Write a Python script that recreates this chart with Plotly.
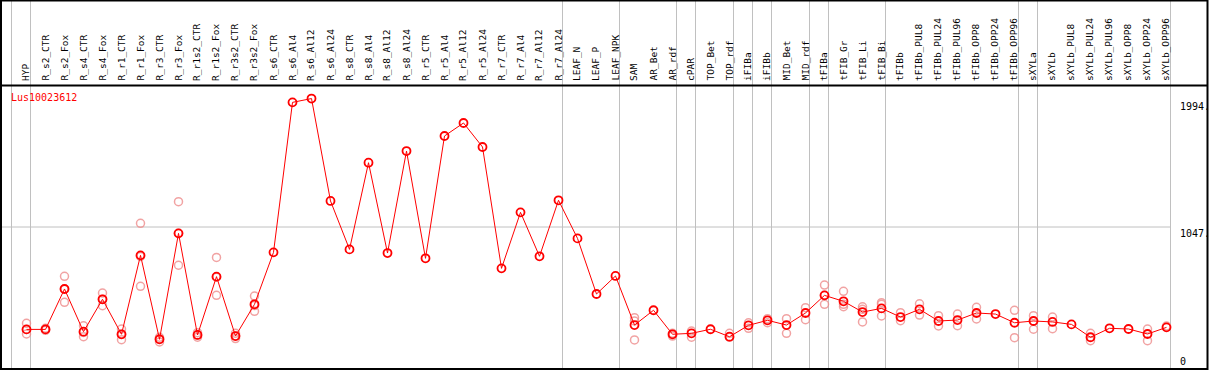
import plotly.graph_objects as go

categories = ["HYP", "R_s2_CTR", "R_s2_Fox", "R_s4_CTR", "R_s4_Fox", "R_r1_CTR", "R_r1_Fox",
              "R_r3_CTR", "R_r3_Fox", "R_r1s2_CTR", "R_r1s2_Fox", "R_r3s2_CTR", "R_r3s2_Fox",
              "R_s6_CTR", "R_s6_Al4", "R_s6_Al12", "R_s6_Al24", "R_s8_CTR", "R_s8_Al4",
              "R_s8_Al12", "R_s8_Al24", "R_r5_CTR", "R_r5_Al4", "R_r5_Al12", "R_r5_Al24",
              "R_r7_CTR", "R_r7_Al4", "R_r7_Al12", "R_r7_Al24", "LEAF_N", "LEAF_P", "LEAF_NPK",
              "SAM", "AR_Bet", "AR_rdf", "cPAR", "TOP_Bet", "TOP_rdf", "iFIBa", "iFIBb",
              "MID_Bet", "MID_rdf", "tFIBa", "tFIB_Gr", "tFIB_Li", "tFIB_Bi", "tFIBb",
              "tFIBb_PUL8", "tFIBb_PUL24", "tFIBb_PUL96", "tFIBb_OPP8", "tFIBb_OPP24",
              "tFIBb_OPP96", "sXYLa", "sXYLb", "sXYLb_PUL8", "sXYLb_PUL24", "sXYLb_PUL96",
              "sXYLb_OPP8", "sXYLb_OPP24", "sXYLb_OPP96"]

mean_values = [292, 292, 590, 275, 514, 256, 838, 219, 1000, 251, 681, 243, 477,
               860, 1966, 1994, 1239, 882, 1521, 855, 1607, 816, 1718, 1814, 1637,
               742, 1155, 831, 1244, 963, 553, 686,
               324, 433, 256, 263, 293, 238, 322, 359, 324, 413, 543, 499, 420, 447, 383,
               440, 354, 361, 413, 405, 341, 354, 347, 329, 234, 300, 295, 258, 307]

rep_a = [337, 300, 683, 319, 560, 295, 1074, 234, 1234, 268, 823, 263, 538,
         None, None, None, None, None, None, None, None, None, None, None, None,
         None, None, None, None, None, None, None,
         378, None, 263, 280, None, 263, 341, 371, 371, 452, 619, 573, 459, 489, 415,
         481, 393, 405, 455, None, 433, 393, 383, None, 263, None, None, 295, 317]
rep_b = [292, 292, 590, 270, 514, 256, 830, 222, 1000, 251, 677, 243, 468,
         None, None, None, None, None, None, None, None, None, None, None, None,
         None, None, None, None, None, None, None,
         354, None, None, None, None, None, None, None, None, None, 543, 477, 440, 477, None,
         None, None, None, None, None, None, None, None, None, None, None, None, None, None]
rep_c = [258, 285, 492, 238, 467, 216, 610, 199, 765, 234, 543, 224, 425,
         None, None, None, None, None, None, None, None, None, None, None, None,
         None, None, None, None, None, None, None,
         214, None, 243, 234, None, 234, 300, 341, 263, 364, 477, 459, 347, 391, 356,
         398, 317, 319, 369, None, 231, 293, 297, None, 209, None, None, 209, None]

separator_after = [-1, 0, 28, 31, 34, 35, 37, 38, 39, 41, 42, 45, 52, 53, 60]

gene_label = "Lus10023612"
y_max_label = "1994."
y_mid_label = "1047."
y_min_label = "0"
y_mid_value = 1047
y_top = 2094

W, H = 1209, 370
step = 19.0
x0_px = 26.5
r0 = -x0_px / step
r1 = r0 + W / step

def py(p):
    return 1 - p / H

def px(p):
    return p / W

n = len(categories)
xs = list(range(n))
red = "#ff0000"
pink = "rgba(238,140,140,0.8)"
mono = "DejaVu Sans Mono"

fig = go.Figure()
for reps in (rep_a, rep_b, rep_c):
    fig.add_trace(go.Scatter(x=xs, y=reps, mode="markers",
                             marker=dict(symbol="circle-open", size=8, color=pink,
                                         line=dict(width=1.5, color=pink)),
                             showlegend=False, hoverinfo="skip"))
fig.add_trace(go.Scatter(x=xs, y=mean_values, mode="lines+markers",
                         line=dict(color=red, width=1),
                         marker=dict(symbol="circle-open", size=8, color=red,
                                     line=dict(width=1.8, color=red)),
                         showlegend=False))

shapes = []
grey = "#c0c0c0"
for s in separator_after:
    xv = s + 4.0 / step
    shapes.append(dict(type="line", xref="x", yref="paper", x0=xv, x1=xv, y0=0, y1=1,
                       line=dict(color=grey, width=1), layer="below"))
# mid horizontal gridline
shapes.append(dict(type="line", xref="paper", yref="y", x0=px(1), x1=px(x0_px + 60 * step + 4),
                   y0=y_mid_value, y1=y_mid_value, line=dict(color=grey, width=1), layer="below"))
# header separator
shapes.append(dict(type="line", xref="paper", yref="paper", x0=px(1), x1=px(1207.5),
                   y0=py(85.5), y1=py(85.5), line=dict(color="black", width=2)))
# border
shapes.append(dict(type="rect", xref="paper", yref="paper", x0=px(1), x1=px(1207.5),
                   y0=py(369), y1=py(0.5), line=dict(color="black", width=2)))

annotations = []
for i, c in enumerate(categories):
    annotations.append(dict(x=i - 1.0 / step, y=py(83), xref="x", yref="paper", text=c,
                            textangle=-90, showarrow=False, xanchor="center", yanchor="bottom",
                            font=dict(family=mono, size=9.5, color="black")))
annotations.append(dict(x=px(9), y=py(97), xref="paper", yref="paper", text=gene_label,
                        showarrow=False, xanchor="left", yanchor="middle",
                        font=dict(family=mono, size=10, color=red)))
for lab, yc in ((y_max_label, 106.5), (y_mid_label, 233), (y_min_label, 361.5)):
    annotations.append(dict(x=px(1177.5), y=py(yc), xref="paper", yref="paper", text=lab,
                            showarrow=False, xanchor="left", yanchor="middle",
                            font=dict(family=mono, size=10, color="black")))

fig.update_layout(
    width=W, height=H, margin=dict(l=0, r=0, t=0, b=0),
    paper_bgcolor="white", plot_bgcolor="white",
    xaxis=dict(range=[r0, r1], domain=[0, 1], showgrid=False, zeroline=False,
               showticklabels=False, showline=False, fixedrange=True),
    yaxis=dict(range=[0, y_top], domain=[py(369), py(85)], showgrid=False, zeroline=False,
               showticklabels=False, showline=False, fixedrange=True),
    shapes=shapes, annotations=annotations,
)
fig.write_html("out.html", config={"displayModeBar": False},
               post_script="document.body.style.margin='0';document.body.style.overflow='hidden';")
